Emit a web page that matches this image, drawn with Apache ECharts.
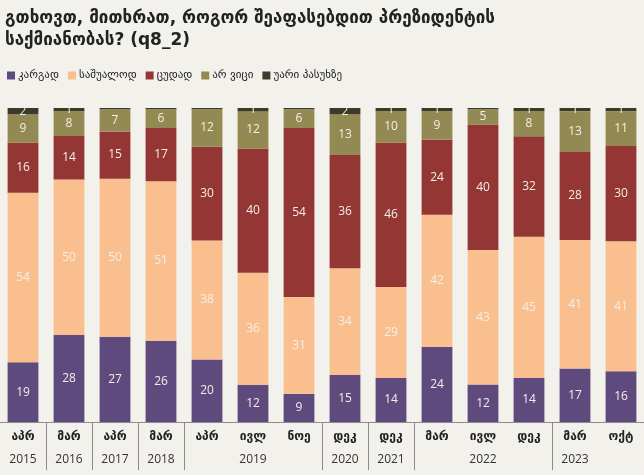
<!DOCTYPE html>
<html><head><meta charset="utf-8">
<script src="https://cdn.jsdelivr.net/npm/echarts@6/dist/echarts.min.js"></script>
<style>html,body{margin:0;padding:0;background:#F3F1EC;}#c{width:644px;height:475px;}</style>
</head><body><div id="c"></div>
<script>
const months = ['აპრ','მარ','აპრ','მარ','აპრ','ივლ','ნოე','დეკ','დეკ','მარ','ივლ','დეკ','მარ','ოქტ'];
const years  = ['2015','2016','2017','2018','2019','2019','2019','2020','2021','2022','2022','2022','2023','2023'];
const good     = [19,28,27,26,20,12, 9,15,14,24,12,14,17,16];
const average  = [54,50,50,51,38,36,31,34,29,42,43,45,41,41];
const bad      = [16,14,15,17,30,40,54,36,46,24,40,32,28,30];
const dontKnow = [ 9, 8, 7, 6,12,12, 6,13,10, 9, 5, 8,13,11];
const refused  = [ 2, 1,0.4,0.4,0.4, 1,0.4, 2, 1, 1,0.4, 1, 1, 1];
const seriesNames = ['კარგად','საშუალოდ','ცუდად','არ ვიცი','უარი პასუხზე'];
const colors = ['#5F4A7D','#F9BF8F','#943634','#938953','#3C3B28'];
const yearGroups = [['2015',0.5],['2016',1.5],['2017',2.5],['2018',3.5],['2019',5.5],['2020',7.5],['2021',8.5],['2022',10.5],['2023',12.5]];
const groupBounds = [1,2,3,4,7,8,9,12];

const raw = [good, average, bad, dontKnow, refused];
const totals = months.map((_, i) => raw.reduce((s, a) => s + a[i], 0));
const cats = months.map((m, i) => m + '|' + i);

const chart = echarts.init(document.getElementById('c'));
chart.setOption({
  backgroundColor: '#F3F1EC',
  animation: false,
  title: {
    text: 'გთხოვთ, მითხრათ, როგორ შეაფასებდით პრეზიდენტის\nსაქმიანობას? (q8_2)',
    left: 0, top: 3,
    textStyle: {fontFamily: 'DejaVu Sans', fontSize: 17, fontWeight: 'bold', color: '#222', lineHeight: 22}
  },
  legend: {
    left: 2, top: 65, itemWidth: 8, itemHeight: 8, itemGap: 9,
    icon: 'rect',
    textStyle: {fontFamily: 'DejaVu Sans', fontSize: 11, color: '#222', padding: [0,0,0,-2]},
    data: seriesNames
  },
  grid: {left: 0, right: 0, top: 108, bottom: 53},
  xAxis: [{
    type: 'category', data: cats, position: 'bottom',
    axisLine: {lineStyle: {color: '#8C8C8C', width: 1}},
    axisTick: {show: true, length: 48, inside: false, lineStyle: {color: '#8C8C8C'},
      interval: (idx) => groupBounds.indexOf(idx) >= 0},
    axisLabel: {interval: 0, margin: 9, formatter: v => v.split('|')[0],
      fontFamily: 'DejaVu Sans', fontSize: 12, fontWeight: 'bold', color: '#222'}
  }, {
    type: 'value', min: 0, max: 14, position: 'bottom', offset: 0,
    axisLine: {show: false}, axisTick: {show: false}, splitLine: {show: false},
    axisLabel: {margin: 32, customValues: yearGroups.map(g => g[1]),
      formatter: v => { const g = yearGroups.find(x => Math.abs(x[1]-v) < 1e-6); return g ? g[0] : ''; },
      fontFamily: 'Open Sans', fontSize: 12, color: '#333'}
  }],
  yAxis: {type: 'value', min: 0, max: 100, show: false, splitLine: {show: false}},
  series: raw.map((arr, si) => ({
    name: seriesNames[si], type: 'bar', stack: 'all', xAxisIndex: 0,
    barCategoryGap: '33%',
    itemStyle: {color: colors[si]},
    data: arr.map((v, i) => v / totals[i] * 100),
    label: {
      show: true, position: 'inside',
      formatter: p => arr[p.dataIndex] >= 1 ? String(arr[p.dataIndex]) : '',
      color: '#F4EEE8', fontFamily: 'Open Sans', fontSize: 12
    }
  }))
});
</script></body></html>
